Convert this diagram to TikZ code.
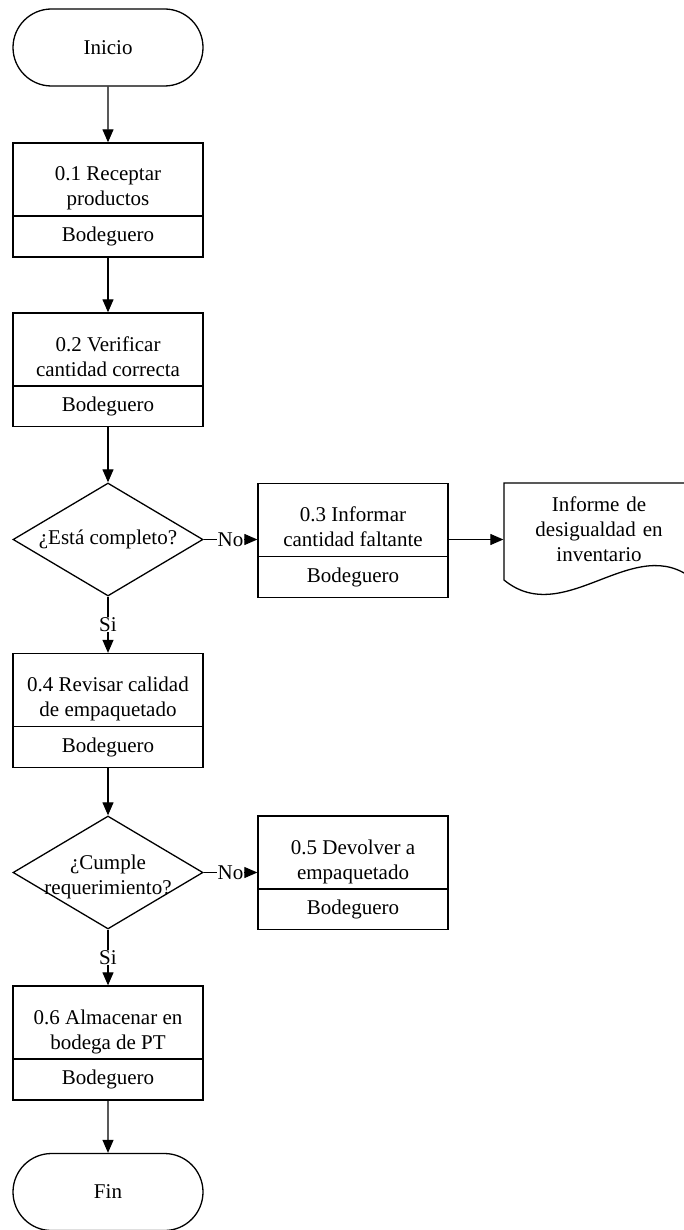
\documentclass[tikz,border=0pt]{standalone}
\usepackage{fontspec}
\setmainfont{Liberation Serif}
\usetikzlibrary{shapes.geometric,shapes.misc,arrows.meta,calc}
\newcommand{\twoln}[2]{\begin{tabular}{@{}c@{}}\rule{0pt}{35.5pt}#1\\#2\end{tabular}}
\tikzset{
  base/.style={font=\fontsize{21}{25}\selectfont, line width=1.3pt, inner sep=0pt, align=center},
  term/.style={base, draw, rounded rectangle, minimum width=190pt, minimum height=77pt},
  act/.style={base, draw, rectangle, minimum width=190pt},
  actop/.style={act, minimum height=73pt},
  actrole/.style={act, minimum height=41pt},
  dec/.style={base, draw, diamond, minimum width=190pt, minimum height=113pt},
  conn/.style={line width=1.1pt, -{Triangle[width=11pt,length=13pt]}},
  lab/.style={font=\fontsize{21}{25}\selectfont, fill=white, inner sep=0.5pt},
  docframe/.style={line width=1.3pt},
}
\begin{document}
\begin{tikzpicture}[x=1pt,y=-1pt]
\useasboundingbox (0,0) rectangle (684,1230);
\fill[white] (0,0) rectangle (684,1230);
\clip (0,0) rectangle (684,1230);

\node[term] (ini) at (108,47.5) {Inicio};

\node[actop] (p1) at (108,179.5) {\twoln{0.1 Receptar}{productos}};
\node[actrole] (p1r) at (108,236.5) {Bodeguero};

\node[actop] (p2) at (108,349.5) {\twoln{0.2 Verificar}{cantidad correcta}};
\node[actrole] (p2r) at (108,406) {Bodeguero};

\node[dec] (d1) at (108,539.5) {\makebox[0pt]{¿Está completo?}};

\node[actop] (p3) at (353,520) {\twoln{0.3 Informar}{cantidad faltante}};
\node[actrole] (p3r) at (353,577) {Bodeguero};

\node[base, minimum width=190pt, text width=186pt] (doc) at (599,529) {Informe de\\desigualdad en\\inventario};
\draw[docframe] ([shift={(-95,-46)}]doc.center) -- ([shift={(95,-46)}]doc.center)
  -- ([shift={(95,51)}]doc.center)
  .. controls ([shift={(36,1)}]doc.center) and ([shift={(-34,101)}]doc.center) .. ([shift={(-95,51)}]doc.center)
  -- cycle;

\node[actop] (p4) at (108,690) {\twoln{0.4 Revisar calidad}{de empaquetado}};
\node[actrole] (p4r) at (108,747) {Bodeguero};

\node[dec] (d2) at (108,872.5) {\makebox[0pt]{\begin{tabular}{@{}c@{}}\rule{0pt}{25.5pt}¿Cumple\\requerimiento?\end{tabular}}};

\node[actop] (p5) at (353,852.5) {\twoln{0.5 Devolver a}{empaquetado}};
\node[actrole] (p5r) at (353,909) {Bodeguero};

\node[actop] (p6) at (108,1022.5) {\twoln{0.6 Almacenar en}{bodega de PT}};
\node[actrole] (p6r) at (108,1079.5) {Bodeguero};

\node[term] (fin) at (108,1192) {Fin};

\draw[conn] (ini) -- (p1);
\draw[conn] (p1r) -- (p2);
\draw[conn] (p2r) -- (d1);
\draw[conn] (d1.east) -- node[lab] {No} (d1.east -| p3.west);
\draw[conn] (p3.east |- d1.east) -- (doc.west |- d1.east);
\draw[conn] (d1) -- node[lab] {Si} (p4);
\draw[conn] (p4r) -- (d2);
\draw[conn] (d2.east) -- node[lab] {No} (d2.east -| p5.west);
\draw[conn] (d2) -- node[lab] {Si} (p6);
\draw[conn] (p6r) -- (fin);
\end{tikzpicture}
\end{document}
